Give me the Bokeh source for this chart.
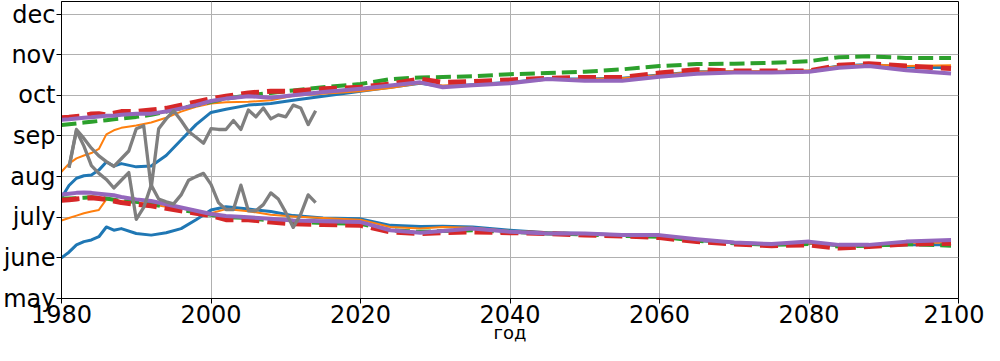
from bokeh.plotting import figure
from bokeh.models import FixedTicker, Range1d
from bokeh.embed import file_html
from bokeh.resources import INLINE

# ---------------- data (month number: may=5 ... dec=12) ----------------
model_years = [1980, 1981, 1982, 1983, 1984, 1985, 1986, 1987, 1988, 1990, 1992, 1994,
               1996, 1998, 2000, 2002, 2005, 2008, 2011, 2015, 2020, 2024, 2028, 2031,
               2035, 2040, 2045, 2050, 2055, 2060, 2065, 2070, 2075, 2080, 2084, 2088,
               2093, 2099]

blue_up = [7.48, 7.78, 7.96, 8.02, 8.04, 8.16, 8.36, 8.26, 8.32, 8.24, 8.26, 8.52,
           8.90, 9.28, 9.58, 9.66, 9.76, 9.80, 9.88, 9.98, 10.10, 10.20, 10.30, 10.22,
           10.26, 10.32, 10.40, 10.40, 10.42, 10.50, 10.58, 10.58, 10.58, 10.60, 10.72, 10.76,
           10.70, 10.68]
orange_up = [8.12, 8.32, 8.45, 8.52, 8.58, 8.68, 9.04, 9.14, 9.20, 9.26, 9.33, 9.45,
             9.60, 9.72, 9.80, 9.83, 9.84, 9.88, 9.99, 10.04, 10.10, 10.18, 10.30, 10.24,
             10.26, 10.32, 10.40, 10.40, 10.42, 10.50, 10.58, 10.60, 10.60, 10.62, 10.72, 10.76,
             10.72, 10.74]
green_up = [9.27, 9.29, 9.31, 9.33, 9.35, 9.37, 9.39, 9.41, 9.43, 9.47, 9.52, 9.60,
            9.68, 9.76, 9.84, 9.92, 10.00, 10.06, 10.12, 10.20, 10.28, 10.40, 10.44, 10.45,
            10.47, 10.52, 10.55, 10.58, 10.64, 10.72, 10.77, 10.78, 10.80, 10.84, 10.94, 10.96,
            10.92, 10.92]
red_up = [9.45, 9.46, 9.48, 9.50, 9.54, 9.55, 9.52, 9.56, 9.60, 9.60, 9.64, 9.68,
          9.76, 9.84, 9.92, 9.98, 10.06, 10.10, 10.10, 10.16, 10.20, 10.28, 10.40, 10.32,
          10.34, 10.38, 10.42, 10.44, 10.44, 10.55, 10.63, 10.60, 10.60, 10.60, 10.74, 10.78,
          10.72, 10.66]
purple_up = [9.40, 9.41, 9.43, 9.45, 9.46, 9.48, 9.50, 9.50, 9.52, 9.55, 9.55, 9.60,
             9.68, 9.76, 9.86, 9.92, 9.98, 9.94, 10.00, 10.08, 10.16, 10.24, 10.32, 10.20,
             10.25, 10.30, 10.40, 10.36, 10.36, 10.46, 10.53, 10.56, 10.56, 10.58, 10.68, 10.72,
             10.62, 10.54]

blue_lo = [6.00, 6.14, 6.32, 6.40, 6.44, 6.52, 6.76, 6.68, 6.72, 6.60, 6.56, 6.62,
           6.72, 6.94, 7.18, 7.26, 7.20, 7.14, 7.04, 6.98, 6.96, 6.80, 6.77, 6.78,
           6.76, 6.68, 6.62, 6.60, 6.56, 6.54, 6.42, 6.38, 6.34, 6.36, 6.30, 6.30,
           6.32, 6.32]
orange_lo = [6.92, 6.98, 7.04, 7.10, 7.14, 7.18, 7.44, 7.42, 7.40, 7.36, 7.32, 7.26,
             7.22, 7.14, 7.10, 7.20, 7.15, 7.06, 7.02, 6.98, 6.94, 6.76, 6.72, 6.76,
             6.74, 6.66, 6.62, 6.60, 6.55, 6.52, 6.42, 6.38, 6.34, 6.36, 6.30, 6.30,
             6.36, 6.38]
green_lo = [7.46, 7.46, 7.47, 7.48, 7.49, 7.48, 7.46, 7.43, 7.40, 7.38, 7.32, 7.26,
            7.18, 7.12, 7.06, 7.00, 6.98, 6.92, 6.88, 6.86, 6.84, 6.68, 6.64, 6.66,
            6.68, 6.64, 6.60, 6.58, 6.54, 6.52, 6.42, 6.36, 6.32, 6.34, 6.28, 6.30,
            6.34, 6.30]
red_lo = [7.42, 7.43, 7.45, 7.47, 7.48, 7.46, 7.44, 7.40, 7.36, 7.32, 7.28, 7.22,
          7.16, 7.10, 7.04, 6.94, 6.94, 6.88, 6.84, 6.82, 6.80, 6.64, 6.60, 6.62,
          6.64, 6.62, 6.60, 6.56, 6.54, 6.50, 6.40, 6.34, 6.30, 6.32, 6.24, 6.28,
          6.34, 6.36]
purple_lo = [7.56, 7.58, 7.60, 7.61, 7.60, 7.58, 7.56, 7.54, 7.50, 7.44, 7.40, 7.32,
             7.24, 7.16, 7.08, 7.03, 7.00, 6.96, 6.92, 6.90, 6.88, 6.68, 6.62, 6.66,
             6.72, 6.64, 6.60, 6.60, 6.56, 6.56, 6.46, 6.38, 6.34, 6.40, 6.32, 6.32,
             6.40, 6.44]

obs_years = [1981, 1982, 1983, 1984, 1985, 1986, 1987, 1988, 1989, 1990, 1991, 1992,
             1993, 1994, 1995, 1996, 1997, 1998, 1999, 2000, 2001, 2002, 2003, 2004,
             2005, 2006, 2007, 2008, 2009, 2010, 2011, 2012, 2013, 2014]
obs_up = [8.22, 9.16, 8.94, 8.70, 8.51, 8.37, 8.25, 8.44, 8.63, 9.18, 9.25, 7.72,
          9.18, 9.42, 9.62, 9.38, 9.11, 8.97, 8.82, 9.18, 9.16, 9.16, 9.38, 9.16,
          9.64, 9.47, 9.69, 9.42, 9.52, 9.47, 9.76, 9.69, 9.28, 9.62]
obs_lo = [8.22, 9.13, 8.75, 8.27, 8.08, 7.93, 7.72, 7.91, 8.10, 6.95, 7.24, 7.79,
          7.45, 7.38, 7.33, 7.55, 7.91, 8.00, 8.08, 7.81, 7.36, 7.19, 7.19, 7.79,
          7.16, 7.16, 7.31, 7.60, 7.45, 7.12, 6.75, 7.07, 7.55, 7.36]

month_ticks = [5, 6, 7, 8, 9, 10, 11, 12]
month_labels = ["may", "june", "july", "aug", "sep", "oct", "nov", "dec"]
year_ticks = [1980, 2000, 2020, 2040, 2060, 2080, 2100]
x_label = "год"

# ---------------- figure ----------------
FONT = "DejaVu Sans"
p = figure(width=984, height=345, output_backend="svg", toolbar_location=None,
           x_range=Range1d(1980, 2100), y_range=Range1d(5, 12.31),
           min_border_left=57, min_border_right=26, min_border_top=1, min_border_bottom=0)
p.background_fill_color = "white"
p.border_fill_color = "white"
p.outline_line_color = "black"
p.outline_line_width = 1

for ax in (p.xaxis[0], p.yaxis[0]):
    ax.axis_line_color = "black"
    ax.major_tick_line_color = "black"
    ax.major_tick_out = 5
    ax.major_tick_in = 0
    ax.minor_tick_out = 0
    ax.minor_tick_in = 0
    ax.major_label_text_font = FONT
    ax.major_label_text_font_size = "24px"
    ax.major_label_text_color = "black"
    ax.major_label_standoff = 1

p.xaxis.ticker = FixedTicker(ticks=year_ticks)
p.yaxis.ticker = FixedTicker(ticks=month_ticks)
p.yaxis.major_label_overrides = {t: l for t, l in zip(month_ticks, month_labels)}
p.xaxis.axis_label = x_label
p.xaxis.axis_label_text_font = FONT
p.xaxis.axis_label_text_font_size = "18px"
p.xaxis.axis_label_text_font_style = "normal"
p.xaxis.axis_label_text_color = "black"
p.xaxis.axis_label_standoff = -4

p.grid.grid_line_color = "#b0b0b0"
p.grid.grid_line_width = 1

def draw(y, color, width, dash="solid"):
    p.line(model_years, y, line_color=color, line_width=width, line_dash=dash,
           line_join="round")

draw(blue_up, "#1f77b4", 3)
draw(blue_lo, "#1f77b4", 3)
draw(orange_up, "#ff7f0e", 2)
draw(orange_lo, "#ff7f0e", 2)
draw(green_up, "#2ca02c", 4, "15 6")
draw(green_lo, "#2ca02c", 4, "15 6")
draw(red_up, "#d62728", 5, "18 8")
draw(red_lo, "#d62728", 5, "18 8")
draw(purple_up, "#9467bd", 4)
draw(purple_lo, "#9467bd", 4)

p.line(obs_years, obs_up, line_color="#7f7f7f", line_width=3.3, line_join="round")
p.line(obs_years, obs_lo, line_color="#7f7f7f", line_width=3.3, line_join="round")

open("out.html", "w").write(file_html(p, INLINE))
